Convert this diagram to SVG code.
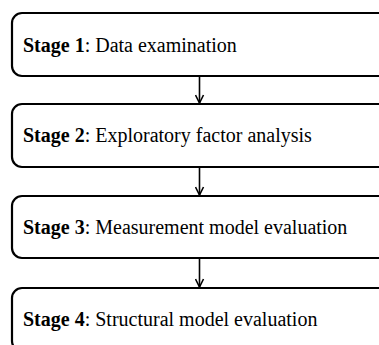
<svg xmlns="http://www.w3.org/2000/svg" width="379" height="345" viewBox="0 0 379 345">
  <style>
    .box { fill: #ffffff; stroke: #000000; stroke-width: 2.2; }
    .label { font-family: "Liberation Serif", "Times New Roman", serif; font-size: 20px; fill: #000000; }
    .label .num { font-weight: bold; }
    .conn { stroke: #000000; stroke-width: 1.6; fill: none; }
  </style>
  <defs>
    <marker id="arrow" viewBox="0 0 10 10" refX="9" refY="5" markerWidth="10" markerHeight="10" orient="auto" markerUnits="userSpaceOnUse">
      <path d="M1,1 L9,5 L1,9" fill="none" stroke="#000000" stroke-width="1.6"/>
    </marker>
  </defs>
  <rect width="379" height="345" fill="#ffffff"/>

  <g id="stage1">
    <rect class="box" x="12" y="13" width="380" height="63" rx="10" ry="10"/>
    <text class="label" x="23" y="52"><tspan class="num">Stage 1</tspan>: Data examination</text>
  </g>
  <g id="stage2">
    <rect class="box" x="12" y="104" width="380" height="63" rx="10" ry="10"/>
    <text class="label" x="23" y="142"><tspan class="num">Stage 2</tspan>: Exploratory factor analysis</text>
  </g>
  <g id="stage3">
    <rect class="box" x="12" y="196" width="380" height="62" rx="10" ry="10"/>
    <text class="label" x="23" y="234"><tspan class="num">Stage 3</tspan>: Measurement model evaluation</text>
  </g>
  <g id="stage4">
    <rect class="box" x="12" y="288" width="380" height="63" rx="10" ry="10"/>
    <text class="label" x="23" y="326"><tspan class="num">Stage 4</tspan>: Structural model evaluation</text>
  </g>

  <g id="connectors">
    <line class="conn" x1="199.5" y1="77" x2="199.5" y2="103" marker-end="url(#arrow)"/>
    <line class="conn" x1="199.5" y1="168" x2="199.5" y2="195" marker-end="url(#arrow)"/>
    <line class="conn" x1="199.5" y1="259" x2="199.5" y2="287" marker-end="url(#arrow)"/>
  </g>
</svg>
